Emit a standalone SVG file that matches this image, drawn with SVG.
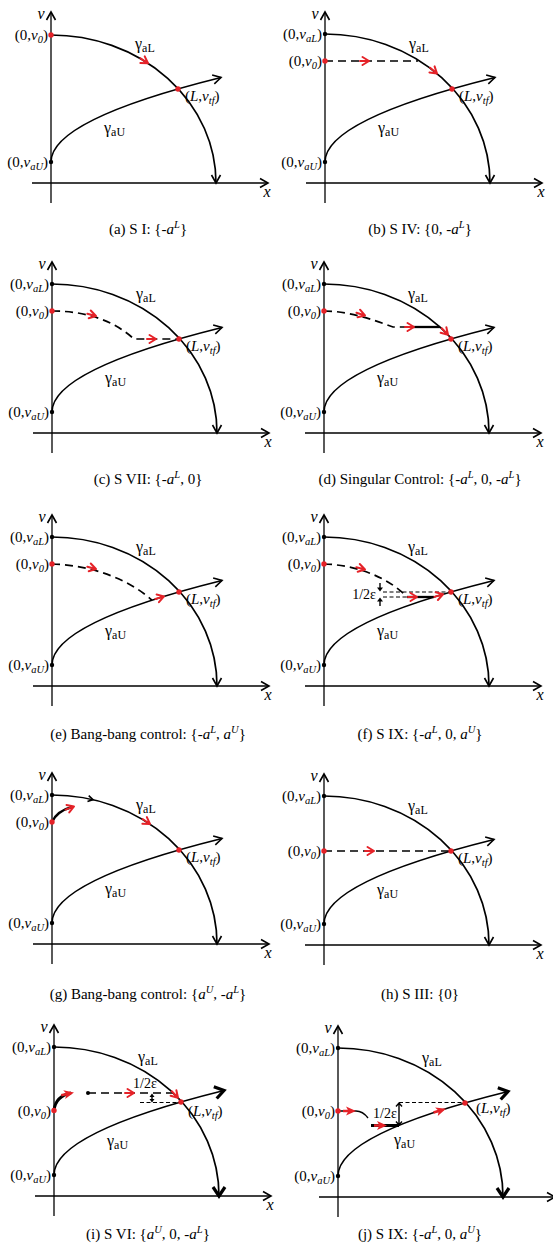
<svg xmlns="http://www.w3.org/2000/svg" width="553" height="1245" viewBox="0 0 553 1245">
<style>
.ax{fill:none;stroke:#000;stroke-width:1.3}
.cv{fill:none;stroke:#000;stroke-width:1.7}
.ds{fill:none;stroke:#000;stroke-width:1.7;stroke-dasharray:8 5}
.tn{fill:none;stroke:#000;stroke-width:1;stroke-dasharray:4 2.5}
.sd{fill:none;stroke:#000;stroke-width:2.3}
.tk{fill:none;stroke:#000;stroke-width:3}
.th{fill:none;stroke:#000;stroke-width:1.4}
.rd{fill:#e52228}
.bd{fill:#000}
.t{font-family:"Liberation Serif","Times New Roman",serif;font-size:15px;fill:#000}
.i{font-style:italic}
.s{font-size:10.5px}
.g{font-size:16px}
.gs{font-size:12px}
.av{font-size:16px}
.e{font-size:14px}
</style>
<defs>
<marker id="ah" viewBox="-11 -7 14 14" refX="0" refY="0" markerWidth="14" markerHeight="14" markerUnits="userSpaceOnUse" orient="auto"><path d="M-8,-4.5 L0,0 L-8,4.5" fill="none" stroke="#000" stroke-width="1.6"/></marker>
<marker id="ahb" viewBox="-13 -9 18 18" refX="0" refY="0" markerWidth="18" markerHeight="18" markerUnits="userSpaceOnUse" orient="auto"><path d="M-9,-6 L0,0 L-9,6" fill="none" stroke="#000" stroke-width="3.2"/></marker>
<path id="ra" d="M-6.5,-4 L0,0 L-6.5,4 M-9,0 L0,0" fill="none" stroke="#e52228" stroke-width="2" stroke-linecap="round" stroke-linejoin="round"/>
<path id="rf" d="M-9,-4.5 L1,0 L-9,4.5 L-6.5,0 Z M-12,-1.3 L-6,-1.3 L-6,1.3 L-12,1.3 Z" fill="#e52228"/>
<path id="bc" d="M-5,-3 L0,0 L-5,3" fill="none" stroke="#000" stroke-width="1.6"/>
</defs>
<rect width="553" height="1245" fill="#fff"/>

<!-- (a) -->
<g id="panel-a">
<g transform="translate(51,183)">
<line class="ax" x1="-19" y1="0" x2="217" y2="0" marker-end="url(#ah)"/>
<line class="ax" x1="0" y1="20" x2="0" y2="-171" marker-end="url(#ah)"/>
<text class="t i av" x="-10" y="-164.5" text-anchor="middle">v</text>
<text class="t i av" x="216" y="14" text-anchor="middle">x</text>
<path class="cv" d="M0,-148 A165,148 0 0 1 165,0" marker-end="url(#ah)"/>
<path class="cv" d="M0,-21 Q0,-63.25 170,-105.5" marker-end="url(#ah)"/>
<use href="#ra" transform="translate(97,-119.7) rotate(33)"/>
<circle class="rd" cx="0" cy="-148" r="2.7"/>
<circle class="rd" cx="127" cy="-94" r="2.7"/>
<circle class="bd" cx="0" cy="-21" r="2.2"/>
<text class="t" x="-3" y="-143" text-anchor="end">(0,<tspan class="i">v</tspan><tspan class="i s" dy="3">0</tspan><tspan dy="-3">)</tspan></text>
<text class="t" x="-3" y="-16" text-anchor="end">(0,<tspan class="i">v</tspan><tspan class="i s" dy="3">aU</tspan><tspan dy="-3">)</tspan></text>
<text class="t" x="134" y="-82">(<tspan class="i">L</tspan>,<tspan class="i">v</tspan><tspan class="i s" dy="3">tf</tspan><tspan dy="-3">)</tspan></text>
<text class="t g" x="84" y="-134">γ<tspan class="gs" dy="3">aL</tspan></text>
<text class="t g" x="53" y="-50">γ<tspan class="gs" dy="3">aU</tspan></text>
</g>
<text class="t" x="148" y="234" text-anchor="middle">(a) S I: {-<tspan class="i">a</tspan><tspan class="i s" dy="-6">L</tspan><tspan dy="6">}</tspan></text>
</g>

<!-- (b) -->
<g id="panel-b">
<g transform="translate(325,183)">
<line class="ax" x1="-19" y1="0" x2="217" y2="0" marker-end="url(#ah)"/>
<line class="ax" x1="0" y1="20" x2="0" y2="-171" marker-end="url(#ah)"/>
<text class="t i av" x="-10" y="-164.5" text-anchor="middle">v</text>
<text class="t i av" x="216" y="14" text-anchor="middle">x</text>
<path class="cv" d="M0,-149 A165,149 0 0 1 165,0" marker-end="url(#ah)"/>
<path class="cv" d="M0,-21 Q0,-63.25 170,-105.5" marker-end="url(#ah)"/>
<path class="ds" d="M0,-122 L93,-122"/>
<use href="#ra" transform="translate(44,-122)"/>
<use href="#ra" transform="translate(112,-109.4) rotate(40)"/>
<circle class="bd" cx="0" cy="-149" r="2.2"/>
<circle class="rd" cx="0" cy="-122" r="2.7"/>
<circle class="rd" cx="127" cy="-94" r="2.7"/>
<circle class="bd" cx="0" cy="-21" r="2.2"/>
<text class="t" x="-3" y="-144" text-anchor="end">(0,<tspan class="i">v</tspan><tspan class="i s" dy="3">aL</tspan><tspan dy="-3">)</tspan></text>
<text class="t" x="-3" y="-117" text-anchor="end">(0,<tspan class="i">v</tspan><tspan class="i s" dy="3">0</tspan><tspan dy="-3">)</tspan></text>
<text class="t" x="-3" y="-16" text-anchor="end">(0,<tspan class="i">v</tspan><tspan class="i s" dy="3">aU</tspan><tspan dy="-3">)</tspan></text>
<text class="t" x="134" y="-82">(<tspan class="i">L</tspan>,<tspan class="i">v</tspan><tspan class="i s" dy="3">tf</tspan><tspan dy="-3">)</tspan></text>
<text class="t g" x="84" y="-134">γ<tspan class="gs" dy="3">aL</tspan></text>
<text class="t g" x="53" y="-50">γ<tspan class="gs" dy="3">aU</tspan></text>
</g>
<text class="t" x="420" y="234" text-anchor="middle">(b) S IV: {0, -<tspan class="i">a</tspan><tspan class="i s" dy="-6">L</tspan><tspan dy="6">}</tspan></text>
</g>

<!-- (c) -->
<g id="panel-c">
<g transform="translate(52,433)">
<line class="ax" x1="-19" y1="0" x2="217" y2="0" marker-end="url(#ah)"/>
<line class="ax" x1="0" y1="20" x2="0" y2="-171" marker-end="url(#ah)"/>
<text class="t i av" x="-10" y="-164.5" text-anchor="middle">v</text>
<text class="t i av" x="216" y="14" text-anchor="middle">x</text>
<path class="cv" d="M0,-149 A165,149 0 0 1 165,0" marker-end="url(#ah)"/>
<path class="cv" d="M0,-21 Q0,-63.25 170,-105.5" marker-end="url(#ah)"/>
<path class="ds" d="M0,-122 C35,-122 62,-112 82,-94 L127,-94"/>
<use href="#ra" transform="translate(44,-117) rotate(15)"/>
<use href="#ra" transform="translate(104,-94)"/>
<circle class="bd" cx="0" cy="-149" r="2.2"/>
<circle class="rd" cx="0" cy="-122" r="2.7"/>
<circle class="rd" cx="127" cy="-94" r="2.7"/>
<circle class="bd" cx="0" cy="-21" r="2.2"/>
<text class="t" x="-3" y="-144" text-anchor="end">(0,<tspan class="i">v</tspan><tspan class="i s" dy="3">aL</tspan><tspan dy="-3">)</tspan></text>
<text class="t" x="-3" y="-117" text-anchor="end">(0,<tspan class="i">v</tspan><tspan class="i s" dy="3">0</tspan><tspan dy="-3">)</tspan></text>
<text class="t" x="-3" y="-16" text-anchor="end">(0,<tspan class="i">v</tspan><tspan class="i s" dy="3">aU</tspan><tspan dy="-3">)</tspan></text>
<text class="t" x="134" y="-82">(<tspan class="i">L</tspan>,<tspan class="i">v</tspan><tspan class="i s" dy="3">tf</tspan><tspan dy="-3">)</tspan></text>
<text class="t g" x="84" y="-134">γ<tspan class="gs" dy="3">aL</tspan></text>
<text class="t g" x="53" y="-50">γ<tspan class="gs" dy="3">aU</tspan></text>
</g>
<text class="t" x="148" y="484" text-anchor="middle">(c) S VII: {-<tspan class="i">a</tspan><tspan class="i s" dy="-6">L</tspan><tspan dy="6">, 0}</tspan></text>
</g>

<!-- (d) -->
<g id="panel-d">
<g transform="translate(324,433)">
<line class="ax" x1="-19" y1="0" x2="217" y2="0" marker-end="url(#ah)"/>
<line class="ax" x1="0" y1="20" x2="0" y2="-171" marker-end="url(#ah)"/>
<text class="t i av" x="-10" y="-164.5" text-anchor="middle">v</text>
<text class="t i av" x="216" y="14" text-anchor="middle">x</text>
<path class="cv" d="M0,-149 A165,149 0 0 1 165,0" marker-end="url(#ah)"/>
<path class="cv" d="M0,-21 Q0,-63.25 170,-105.5" marker-end="url(#ah)"/>
<path class="ds" d="M0,-122 C25,-122 50,-113 69,-106 L90,-106"/>
<path class="sd" d="M88,-106 L116,-106"/>
<use href="#ra" transform="translate(41,-117.5) rotate(18)"/>
<use href="#ra" transform="translate(90,-106)"/>
<use href="#ra" transform="translate(124,-98.3) rotate(46)"/>
<circle class="bd" cx="0" cy="-149" r="2.2"/>
<circle class="rd" cx="0" cy="-122" r="2.7"/>
<circle class="rd" cx="127" cy="-94" r="2.7"/>
<circle class="bd" cx="0" cy="-21" r="2.2"/>
<text class="t" x="-3" y="-144" text-anchor="end">(0,<tspan class="i">v</tspan><tspan class="i s" dy="3">aL</tspan><tspan dy="-3">)</tspan></text>
<text class="t" x="-3" y="-117" text-anchor="end">(0,<tspan class="i">v</tspan><tspan class="i s" dy="3">0</tspan><tspan dy="-3">)</tspan></text>
<text class="t" x="-3" y="-16" text-anchor="end">(0,<tspan class="i">v</tspan><tspan class="i s" dy="3">aU</tspan><tspan dy="-3">)</tspan></text>
<text class="t" x="134" y="-82">(<tspan class="i">L</tspan>,<tspan class="i">v</tspan><tspan class="i s" dy="3">tf</tspan><tspan dy="-3">)</tspan></text>
<text class="t g" x="84" y="-134">γ<tspan class="gs" dy="3">aL</tspan></text>
<text class="t g" x="53" y="-50">γ<tspan class="gs" dy="3">aU</tspan></text>
</g>
<text class="t" x="420" y="484" text-anchor="middle">(d) Singular Control: {-<tspan class="i">a</tspan><tspan class="i s" dy="-6">L</tspan><tspan dy="6">, 0, -</tspan><tspan class="i">a</tspan><tspan class="i s" dy="-6">L</tspan><tspan dy="6">}</tspan></text>
</g>

<!-- (e) -->
<g id="panel-e">
<g transform="translate(52,686)">
<line class="ax" x1="-19" y1="0" x2="217" y2="0" marker-end="url(#ah)"/>
<line class="ax" x1="0" y1="20" x2="0" y2="-171" marker-end="url(#ah)"/>
<text class="t i av" x="-10" y="-164.5" text-anchor="middle">v</text>
<text class="t i av" x="216" y="14" text-anchor="middle">x</text>
<path class="cv" d="M0,-149 A165,149 0 0 1 165,0" marker-end="url(#ah)"/>
<path class="cv" d="M0,-21 Q0,-63.25 170,-105.5" marker-end="url(#ah)"/>
<path class="ds" d="M0,-122 C40,-121 78,-106 100,-85.8"/>
<use href="#ra" transform="translate(44,-117) rotate(15)"/>
<use href="#ra" transform="translate(112,-89.6) rotate(-17)"/>
<circle class="bd" cx="0" cy="-149" r="2.2"/>
<circle class="rd" cx="0" cy="-122" r="2.7"/>
<circle class="rd" cx="127" cy="-94" r="2.7"/>
<circle class="bd" cx="0" cy="-21" r="2.2"/>
<text class="t" x="-3" y="-144" text-anchor="end">(0,<tspan class="i">v</tspan><tspan class="i s" dy="3">aL</tspan><tspan dy="-3">)</tspan></text>
<text class="t" x="-3" y="-117" text-anchor="end">(0,<tspan class="i">v</tspan><tspan class="i s" dy="3">0</tspan><tspan dy="-3">)</tspan></text>
<text class="t" x="-3" y="-16" text-anchor="end">(0,<tspan class="i">v</tspan><tspan class="i s" dy="3">aU</tspan><tspan dy="-3">)</tspan></text>
<text class="t" x="134" y="-82">(<tspan class="i">L</tspan>,<tspan class="i">v</tspan><tspan class="i s" dy="3">tf</tspan><tspan dy="-3">)</tspan></text>
<text class="t g" x="84" y="-134">γ<tspan class="gs" dy="3">aL</tspan></text>
<text class="t g" x="53" y="-50">γ<tspan class="gs" dy="3">aU</tspan></text>
</g>
<text class="t" x="148" y="739" text-anchor="middle">(e) Bang-bang control: {-<tspan class="i">a</tspan><tspan class="i s" dy="-6">L</tspan><tspan dy="6">, </tspan><tspan class="i">a</tspan><tspan class="i s" dy="-6">U</tspan><tspan dy="6">}</tspan></text>
</g>

<!-- (f) -->
<g id="panel-f">
<g transform="translate(324,686)">
<line class="ax" x1="-19" y1="0" x2="217" y2="0" marker-end="url(#ah)"/>
<line class="ax" x1="0" y1="20" x2="0" y2="-171" marker-end="url(#ah)"/>
<text class="t i av" x="-10" y="-164.5" text-anchor="middle">v</text>
<text class="t i av" x="216" y="14" text-anchor="middle">x</text>
<path class="cv" d="M0,-149 A165,149 0 0 1 165,0" marker-end="url(#ah)"/>
<path class="cv" d="M0,-21 Q0,-63.25 170,-105.5" marker-end="url(#ah)"/>
<path class="ds" d="M0,-122 C35,-121 66,-107 83,-89"/>
<path class="tn" d="M59,-94 L127,-94"/>
<path class="tn" d="M59,-89 L83,-89"/>
<path class="sd" d="M83,-89 L110,-89"/>
<use href="#ra" transform="translate(41,-116.5) rotate(15)"/>
<use href="#ra" transform="translate(93,-89)"/>
<use href="#ra" transform="translate(119,-91.7) rotate(-16.5)"/>
<path class="th" d="M56,-103 L56,-98"/>
<path class="bd" d="M53,-98.5 L59,-98.5 L56,-94.5 Z"/>
<path class="th" d="M56,-80 L56,-85"/>
<path class="bd" d="M53,-84.5 L59,-84.5 L56,-88.5 Z"/>
<text class="t e" x="52" y="-87" text-anchor="end">1/2ε</text>
<circle class="bd" cx="0" cy="-149" r="2.2"/>
<circle class="rd" cx="0" cy="-122" r="2.7"/>
<circle class="rd" cx="127" cy="-94" r="2.7"/>
<circle class="bd" cx="0" cy="-21" r="2.2"/>
<text class="t" x="-3" y="-144" text-anchor="end">(0,<tspan class="i">v</tspan><tspan class="i s" dy="3">aL</tspan><tspan dy="-3">)</tspan></text>
<text class="t" x="-3" y="-117" text-anchor="end">(0,<tspan class="i">v</tspan><tspan class="i s" dy="3">0</tspan><tspan dy="-3">)</tspan></text>
<text class="t" x="-3" y="-16" text-anchor="end">(0,<tspan class="i">v</tspan><tspan class="i s" dy="3">aU</tspan><tspan dy="-3">)</tspan></text>
<text class="t" x="134" y="-82">(<tspan class="i">L</tspan>,<tspan class="i">v</tspan><tspan class="i s" dy="3">tf</tspan><tspan dy="-3">)</tspan></text>
<text class="t g" x="84" y="-134">γ<tspan class="gs" dy="3">aL</tspan></text>
<text class="t g" x="53" y="-50">γ<tspan class="gs" dy="3">aU</tspan></text>
</g>
<text class="t" x="420" y="739" text-anchor="middle">(f) S IX: {-<tspan class="i">a</tspan><tspan class="i s" dy="-6">L</tspan><tspan dy="6">, 0, </tspan><tspan class="i">a</tspan><tspan class="i s" dy="-6">U</tspan><tspan dy="6">}</tspan></text>
</g>

<!-- (g) -->
<g id="panel-g">
<g transform="translate(52,944)">
<line class="ax" x1="-19" y1="0" x2="217" y2="0" marker-end="url(#ah)"/>
<line class="ax" x1="0" y1="20" x2="0" y2="-171" marker-end="url(#ah)"/>
<text class="t i av" x="-10" y="-164.5" text-anchor="middle">v</text>
<text class="t i av" x="216" y="14" text-anchor="middle">x</text>
<path class="cv" d="M0,-149 A165,149 0 0 1 165,0" marker-end="url(#ah)"/>
<path class="cv" d="M0,-21 Q0,-63.25 170,-105.5" marker-end="url(#ah)"/>
<path fill="none" stroke="#000" stroke-width="2.4" d="M0,-122 Q5,-133 20,-137"/>
<use href="#ra" transform="translate(22,-137.5) rotate(-20)"/>
<use href="#bc" transform="translate(41,-144.4) rotate(12)"/>
<use href="#ra" transform="translate(98,-120) rotate(34)"/>
<circle class="bd" cx="0" cy="-149" r="2.2"/>
<circle class="rd" cx="0" cy="-122" r="2.7"/>
<circle class="rd" cx="127" cy="-94" r="2.7"/>
<circle class="bd" cx="0" cy="-21" r="2.2"/>
<text class="t" x="-3" y="-144" text-anchor="end">(0,<tspan class="i">v</tspan><tspan class="i s" dy="3">aL</tspan><tspan dy="-3">)</tspan></text>
<text class="t" x="-3" y="-117" text-anchor="end">(0,<tspan class="i">v</tspan><tspan class="i s" dy="3">0</tspan><tspan dy="-3">)</tspan></text>
<text class="t" x="-3" y="-16" text-anchor="end">(0,<tspan class="i">v</tspan><tspan class="i s" dy="3">aU</tspan><tspan dy="-3">)</tspan></text>
<text class="t" x="134" y="-82">(<tspan class="i">L</tspan>,<tspan class="i">v</tspan><tspan class="i s" dy="3">tf</tspan><tspan dy="-3">)</tspan></text>
<text class="t g" x="84" y="-134">γ<tspan class="gs" dy="3">aL</tspan></text>
<text class="t g" x="53" y="-50">γ<tspan class="gs" dy="3">aU</tspan></text>
</g>
<text class="t" x="148" y="999" text-anchor="middle">(g) Bang-bang control: {<tspan class="i">a</tspan><tspan class="i s" dy="-6">U</tspan><tspan dy="6">, -</tspan><tspan class="i">a</tspan><tspan class="i s" dy="-6">L</tspan><tspan dy="6">}</tspan></text>
</g>

<!-- (h) -->
<g id="panel-h">
<g transform="translate(324,945)">
<line class="ax" x1="-19" y1="0" x2="217" y2="0" marker-end="url(#ah)"/>
<line class="ax" x1="0" y1="20" x2="0" y2="-171" marker-end="url(#ah)"/>
<text class="t i av" x="-10" y="-164.5" text-anchor="middle">v</text>
<text class="t i av" x="216" y="14" text-anchor="middle">x</text>
<path class="cv" d="M0,-149 A165,149 0 0 1 165,0" marker-end="url(#ah)"/>
<path class="cv" d="M0,-21 Q0,-63.25 170,-105.5" marker-end="url(#ah)"/>
<path class="ds" d="M0,-94 L127,-94"/>
<use href="#ra" transform="translate(50,-94)"/>
<circle class="bd" cx="0" cy="-149" r="2.2"/>
<circle class="rd" cx="0" cy="-94" r="2.7"/>
<circle class="rd" cx="127" cy="-94" r="2.7"/>
<circle class="bd" cx="0" cy="-21" r="2.2"/>
<text class="t" x="-3" y="-144" text-anchor="end">(0,<tspan class="i">v</tspan><tspan class="i s" dy="3">aL</tspan><tspan dy="-3">)</tspan></text>
<text class="t" x="-3" y="-89" text-anchor="end">(0,<tspan class="i">v</tspan><tspan class="i s" dy="3">0</tspan><tspan dy="-3">)</tspan></text>
<text class="t" x="-3" y="-16" text-anchor="end">(0,<tspan class="i">v</tspan><tspan class="i s" dy="3">aU</tspan><tspan dy="-3">)</tspan></text>
<text class="t" x="134" y="-82">(<tspan class="i">L</tspan>,<tspan class="i">v</tspan><tspan class="i s" dy="3">tf</tspan><tspan dy="-3">)</tspan></text>
<text class="t g" x="84" y="-134">γ<tspan class="gs" dy="3">aL</tspan></text>
<text class="t g" x="53" y="-50">γ<tspan class="gs" dy="3">aU</tspan></text>
</g>
<text class="t" x="420" y="999" text-anchor="middle">(h) S III: {0}</text>
</g>

<!-- (i) -->
<g id="panel-i">
<g transform="translate(54,1196)">
<line class="ax" x1="-19" y1="0" x2="217" y2="0" marker-end="url(#ah)"/>
<line class="ax" x1="0" y1="20" x2="0" y2="-171" marker-end="url(#ah)"/>
<text class="t i av" x="-10" y="-164.5" text-anchor="middle">v</text>
<text class="t i av" x="216" y="14" text-anchor="middle">x</text>
<path class="cv" d="M0,-149 A165,149 0 0 1 165,0" marker-end="url(#ahb)"/>
<path class="cv" d="M0,-21 Q0,-63.25 170,-105.5" marker-end="url(#ahb)"/>
<path class="tk" d="M0,-85.5 C1,-95 7,-101 17,-103"/>
<use href="#rf" transform="translate(19,-103.3) rotate(-12)"/>
<path class="ds" d="M34,-103 L119,-103"/>
<circle class="bd" cx="34" cy="-103" r="2"/>
<use href="#ra" transform="translate(80,-103)"/>
<use href="#ra" transform="translate(124,-98.3) rotate(46)"/>
<path class="tn" d="M86,-93.5 L127,-93.5"/>
<path class="th" d="M98,-100 L98,-96"/>
<path class="bd" d="M95.5,-99 L100.5,-99 L98,-102.5 Z"/>
<path class="bd" d="M95.5,-97 L100.5,-97 L98,-93.5 Z"/>
<text class="t e" x="79" y="-108">1/2ε</text>
<circle class="bd" cx="0" cy="-149" r="2.2"/>
<circle class="rd" cx="0" cy="-85.5" r="2.7"/>
<circle class="rd" cx="127" cy="-94" r="2.7"/>
<circle class="bd" cx="0" cy="-21" r="2.2"/>
<text class="t" x="-3" y="-144" text-anchor="end">(0,<tspan class="i">v</tspan><tspan class="i s" dy="3">aL</tspan><tspan dy="-3">)</tspan></text>
<text class="t" x="-3" y="-80.5" text-anchor="end">(0,<tspan class="i">v</tspan><tspan class="i s" dy="3">0</tspan><tspan dy="-3">)</tspan></text>
<text class="t" x="-3" y="-16" text-anchor="end">(0,<tspan class="i">v</tspan><tspan class="i s" dy="3">aU</tspan><tspan dy="-3">)</tspan></text>
<text class="t" x="134" y="-80">(<tspan class="i">L</tspan>,<tspan class="i">v</tspan><tspan class="i s" dy="3">tf</tspan><tspan dy="-3">)</tspan></text>
<text class="t g" x="84" y="-134">γ<tspan class="gs" dy="3">aL</tspan></text>
<text class="t g" x="53" y="-50">γ<tspan class="gs" dy="3">aU</tspan></text>
</g>
<text class="t" x="148" y="1239" text-anchor="middle">(i) S VI: {<tspan class="i">a</tspan><tspan class="i s" dy="-6">U</tspan><tspan dy="6">, 0, -</tspan><tspan class="i">a</tspan><tspan class="i s" dy="-6">L</tspan><tspan dy="6">}</tspan></text>
</g>

<!-- (j) -->
<g id="panel-j">
<g transform="translate(338,1197)">
<line class="ax" x1="-19" y1="0" x2="217" y2="0" marker-end="url(#ah)"/>
<line class="ax" x1="0" y1="20" x2="0" y2="-171" marker-end="url(#ah)"/>
<text class="t i av" x="-10" y="-164.5" text-anchor="middle">v</text>
<path class="cv" d="M0,-149 A165,149 0 0 1 165,0" marker-end="url(#ahb)"/>
<path class="cv" d="M0,-21 Q0,-63.25 170,-105.5" marker-end="url(#ahb)"/>
<path class="th" d="M0,-86 L18,-86 C23,-86 27,-83 30,-79"/>
<use href="#rf" transform="translate(17,-86)"/>
<path class="tk" d="M33,-71.5 L61,-71.5"/>
<use href="#rf" transform="translate(48,-71.5)"/>
<path class="tn" d="M61,-94.5 L127,-94.5"/>
<path class="th" d="M61,-93.5 L61,-72.5 M58,-90.5 L61,-94 L64,-90.5 M58,-75.5 L61,-72 L64,-75.5"/>
<text class="t e" x="35" y="-79">1/2ε</text>
<use href="#rf" transform="translate(107,-88) rotate(-17.5)"/>
<circle class="bd" cx="0" cy="-149" r="2.2"/>
<circle class="rd" cx="0" cy="-86" r="2.7"/>
<circle class="rd" cx="127" cy="-94" r="2.7"/>
<circle class="bd" cx="0" cy="-21" r="2.2"/>
<text class="t" x="-3" y="-144" text-anchor="end">(0,<tspan class="i">v</tspan><tspan class="i s" dy="3">aL</tspan><tspan dy="-3">)</tspan></text>
<text class="t" x="-3" y="-81" text-anchor="end">(0,<tspan class="i">v</tspan><tspan class="i s" dy="3">0</tspan><tspan dy="-3">)</tspan></text>
<text class="t" x="-3" y="-16" text-anchor="end">(0,<tspan class="i">v</tspan><tspan class="i s" dy="3">aU</tspan><tspan dy="-3">)</tspan></text>
<text class="t" x="138" y="-84">(<tspan class="i">L</tspan>,<tspan class="i">v</tspan><tspan class="i s" dy="3">tf</tspan><tspan dy="-3">)</tspan></text>
<text class="t g" x="84" y="-134">γ<tspan class="gs" dy="3">aL</tspan></text>
<text class="t g" x="56" y="-52">γ<tspan class="gs" dy="3">aU</tspan></text>
</g>
<text class="t" x="420" y="1239" text-anchor="middle">(j) S IX: {-<tspan class="i">a</tspan><tspan class="i s" dy="-6">L</tspan><tspan dy="6">, 0, </tspan><tspan class="i">a</tspan><tspan class="i s" dy="-6">U</tspan><tspan dy="6">}</tspan></text>
</g>
</svg>
